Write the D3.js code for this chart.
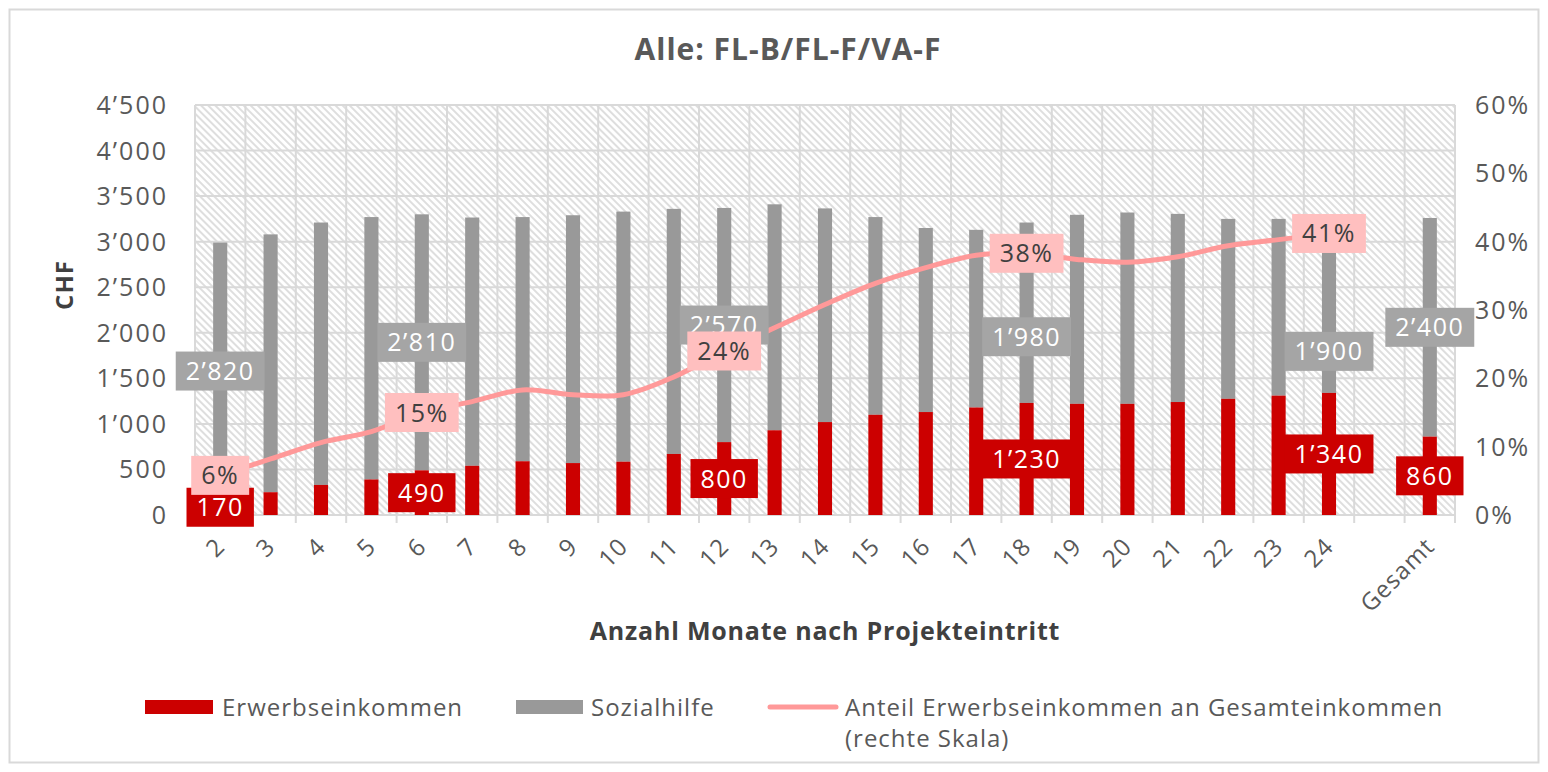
<!DOCTYPE html>
<html>
<head>
<meta charset="utf-8">
<script src="https://cdn.jsdelivr.net/npm/d3@7"></script>
<style>
  body { margin: 0; background: #fff; }
  text { font-family: "Open Sans", sans-serif; }
</style>
</head>
<body>
<div id="chart"></div>
<script>
// Monate nach Projekteintritt, " " = leere Kategorie vor Gesamt
const months = ["2","3","4","5","6","7","8","9","10","11","12","13","14","15","16","17","18","19","20","21","22","23","24"," ","Gesamt"];
// Erwerbseinkommen (CHF)
const erwerb = [170,250,330,390,490,540,590,570,585,670,800,930,1020,1100,1130,1180,1230,1220,1220,1240,1275,1310,1340,null,860];
// Sozialhilfe (CHF)
const sozial = [2820,2830,2880,2880,2810,2725,2680,2720,2745,2690,2570,2480,2345,2170,2020,1950,1980,2075,2100,2065,1975,1940,1900,null,2400];
// Anteil Erwerbseinkommen an Gesamteinkommen (%), Monate 2-24
const anteil = [5.8,8.2,10.6,12.2,15.0,16.6,18.3,17.6,17.6,20.2,24.0,27.4,30.8,33.9,36.2,38.0,38.3,37.4,37.0,37.8,39.4,40.3,41.2];
const leftTicks = [0,500,1000,1500,2000,2500,3000,3500,4000,4500];
const rightTicks = [0,10,20,30,40,50,60];
// Kategorien mit Datenbeschriftung
const labelIdx = [0,4,10,16,22,24];

(function() {
  const W = 1548, H = 772;
  const margin = {top: 105, right: 93, bottom: 257, left: 195},
      width = W - margin.left - margin.right,
      height = H - margin.top - margin.bottom;

  const svg = d3.select("#chart").append("svg")
      .attr("width", W).attr("height", H);

  // hatch pattern for the plot area
  const defs = svg.append("defs");
  defs.append("pattern")
      .attr("id", "hatch")
      .attr("patternUnits", "userSpaceOnUse")
      .attr("width", 5).attr("height", 5)
      .attr("patternTransform", "rotate(45)")
    .append("rect")
      .attr("width", 5).attr("height", 2)
      .attr("fill", "#dedede");

  // outer frame
  svg.append("rect")
      .attr("x", 9.5).attr("y", 9.5)
      .attr("width", W - 19).attr("height", H - 19)
      .attr("fill", "#fff")
      .attr("stroke", "#d9d9d9")
      .attr("stroke-width", 2);

  const g = svg.append("g")
      .attr("transform", "translate(" + margin.left + "," + margin.top + ")");

  const loc = d3.formatLocale({decimal: ".", thousands: "\u2019", grouping: [3], currency: ["", ""]});
  const fmt = loc.format(",");

  const x = d3.scaleBand().domain(months).range([0, width]).paddingInner(0.72).paddingOuter(0.36);
  const step = x.step();
  const y = d3.scaleLinear().domain([0, 4500]).range([height, 0]);
  const y2 = d3.scaleLinear().domain([0, 60]).range([height, 0]);

  g.append("rect")
      .attr("width", width).attr("height", height)
      .attr("fill", "url(#hatch)");

  // grid
  g.append("g").selectAll("line")
    .data(leftTicks)
    .join("line")
      .attr("x1", 0).attr("x2", width)
      .attr("y1", d => y(d)).attr("y2", d => y(d))
      .attr("stroke", "#d9d9d9").attr("stroke-width", 2);

  g.append("g").selectAll("line")
    .data(d3.range(months.length + 1))
    .join("line")
      .attr("x1", i => i * step).attr("x2", i => i * step)
      .attr("y1", 0).attr("y2", height + 8)
      .attr("stroke", "#d9d9d9").attr("stroke-width", 2);

  // stacked bars
  const idx = d3.range(months.length).filter(i => erwerb[i] != null);
  g.append("g").selectAll("rect")
    .data(idx)
    .join("rect")
      .attr("x", i => x(months[i]))
      .attr("width", x.bandwidth())
      .attr("y", i => y(erwerb[i] + sozial[i]))
      .attr("height", i => y(0) - y(sozial[i]))
      .attr("fill", "#999999");

  g.append("g").selectAll("rect")
    .data(idx)
    .join("rect")
      .attr("x", i => x(months[i]))
      .attr("width", x.bandwidth())
      .attr("y", i => y(erwerb[i]))
      .attr("height", i => y(0) - y(erwerb[i]))
      .attr("fill", "#cc0000");

  // line on right scale
  const cx = i => x(months[i]) + x.bandwidth() / 2;
  g.append("path")
      .datum(anteil)
      .attr("d", d3.line()
        .x((d, i) => cx(i))
        .y(d => y2(d))
        .curve(d3.curveCatmullRom.alpha(0.5)))
      .attr("fill", "none")
      .attr("stroke", "#ff9999")
      .attr("stroke-width", 5)
      .attr("stroke-linejoin", "round");

  // data labels
  function boxLabel(px, py, txt, fill, color) {
    const lg = g.append("g");
    const r = lg.append("rect").attr("fill", fill);
    const t = lg.append("text")
        .attr("x", px).attr("y", py)
        .attr("dy", "0.36em")
        .attr("text-anchor", "middle")
        .style("font-size", "25px")
        .style("letter-spacing", "1.5px")
        .attr("fill", color)
        .text(txt);
    const w = t.node().getComputedTextLength() + 20;
    r.attr("x", px - w / 2).attr("y", py - 19.5).attr("width", w).attr("height", 39);
  }
  const grayShift = {16: 24, 22: 45};
  labelIdx.forEach(i => {
    boxLabel(cx(i), y(erwerb[i] / 2), fmt(erwerb[i]), "#cc0000", "#fff");
  });
  labelIdx.forEach(i => {
    boxLabel(cx(i), y(erwerb[i] + sozial[i] / 2) + (grayShift[i] || 0), fmt(sozial[i]), "#a5a5a5", "#fff");
  });
  labelIdx.filter(i => anteil[i] != null).forEach(i => {
    boxLabel(cx(i), y2(anteil[i]), Math.round(anteil[i]) + "%", "#ffbfbf", "#404040");
  });

  // axes labels
  g.append("g").selectAll("text")
    .data(leftTicks)
    .join("text")
      .attr("x", -27).attr("y", d => y(d))
      .attr("dy", "0.36em")
      .attr("text-anchor", "end")
      .style("font-size", "25px")
      .style("letter-spacing", "2px")
      .attr("fill", "#595959")
      .text(d => fmt(d));

  g.append("g").selectAll("text")
    .data(rightTicks)
    .join("text")
      .attr("x", width + 20).attr("y", d => y2(d))
      .attr("dy", "0.36em")
      .style("font-size", "25px")
      .style("letter-spacing", "2px")
      .attr("fill", "#595959")
      .text(d => d + "%");

  g.append("g").selectAll("text")
    .data(months)
    .join("text")
      .attr("transform", (d, i) => "translate(" + (x(d) + x.bandwidth() / 2) + "," + (height + 27) + ") rotate(-45)")
      .attr("dy", "0.36em")
      .attr("text-anchor", "end")
      .style("font-size", "24px")
      .style("letter-spacing", "1px")
      .attr("fill", "#595959")
      .text(d => d);

  // titles
  svg.append("text")
      .attr("x", 788).attr("y", 60)
      .attr("text-anchor", "middle")
      .style("font-size", "30px").style("font-weight", "bold")
      .style("letter-spacing", "1px")
      .attr("fill", "#595959")
      .text("Alle: FL-B/FL-F/VA-F");

  svg.append("text")
      .attr("transform", "translate(73,285) rotate(-90)")
      .attr("text-anchor", "middle")
      .style("font-size", "24px").style("font-weight", "bold")
      .style("letter-spacing", "1px")
      .attr("fill", "#404040")
      .text("CHF");

  svg.append("text")
      .attr("x", 825).attr("y", 640)
      .attr("text-anchor", "middle")
      .style("font-size", "25px").style("font-weight", "bold")
      .style("letter-spacing", "0.8px")
      .attr("fill", "#404040")
      .text("Anzahl Monate nach Projekteintritt");

  // legend
  const leg = svg.append("g");
  const legText = (xx, yy, txt) => leg.append("text").attr("x", xx).attr("y", yy).attr("dy", "0.36em")
      .style("font-size", "24px").style("letter-spacing", "1px").attr("fill", "#595959").text(txt);
  leg.append("rect").attr("x", 145).attr("y", 700).attr("width", 68).attr("height", 14).attr("fill", "#cc0000");
  legText(222, 707, "Erwerbseinkommen");
  leg.append("rect").attr("x", 516).attr("y", 700).attr("width", 67).attr("height", 14).attr("fill", "#999999");
  legText(591, 707, "Sozialhilfe");
  leg.append("line").attr("x1", 770).attr("x2", 836).attr("y1", 707).attr("y2", 707)
      .attr("stroke", "#ff9999").attr("stroke-width", 5).attr("stroke-linecap", "round");
  legText(845, 707, "Anteil Erwerbseinkommen an Gesamteinkommen");
  legText(845, 738, "(rechte Skala)");
})();
</script>
</body>
</html>
